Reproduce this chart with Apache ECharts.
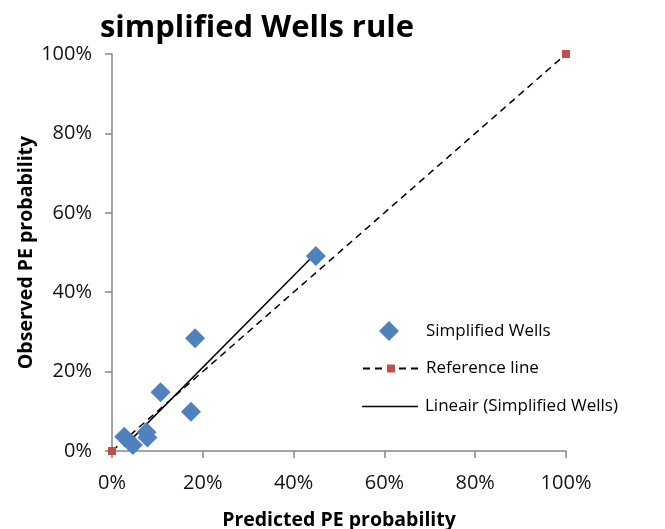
<!DOCTYPE html>
<html><head><meta charset="utf-8">
<script src="https://cdn.jsdelivr.net/npm/echarts@6/dist/echarts.min.js"></script>
<style>html,body{margin:0;padding:0;background:#fff}#c{width:665px;height:529px}</style>
</head><body><div id="c"></div>
<script>
const predicted = [18.3, 10.7, 17.4, 2.7, 4.6, 7.6, 7.8, 44.9];
const observed  = [28.4, 14.8, 9.9, 3.6, 1.5, 4.7, 3.4, 49.1];
const refX = [0, 100];
const refY = [0, 100];
const seriesNames = ['Simplified Wells', 'Reference line', 'Lineair (Simplified Wells)'];
const axisTicks = [0, 20, 40, 60, 80, 100];

const n = predicted.length;
const mx = predicted.reduce((a,b)=>a+b,0)/n;
const my = observed.reduce((a,b)=>a+b,0)/n;
let sxx=0, sxy=0;
for (let i=0;i<n;i++){ sxx+=(predicted[i]-mx)**2; sxy+=(predicted[i]-mx)*(observed[i]-my); }
const slope = sxy/sxx, icpt = my - slope*mx;
const xmin = Math.min(...predicted), xmax = Math.max(...predicted);
const trend = [[xmin, icpt+slope*xmin],[xmax, icpt+slope*xmax]];

const font = "'Open Sans', 'Liberation Sans', sans-serif";
function legendText(pad){ return {fontFamily:font, fontSize:17, color:'#000', padding:[0,0,0,pad]}; }
function axis(name, gap, margin){
  return {type:'value', min:axisTicks[0], max:axisTicks[axisTicks.length-1], interval:axisTicks[1]-axisTicks[0],
    name:name, nameLocation:'middle', nameGap:gap, nameMoveOverlap:false,
    nameTextStyle:{fontFamily:font, fontWeight:'bold', fontSize:19.5, color:'#000'},
    axisLine:{show:true, lineStyle:{color:'#868686', width:1.5}},
    axisTick:{show:true, length:7, lineStyle:{color:'#868686', width:1.5}},
    splitLine:{show:false},
    axisLabel:{formatter:'{value}%', fontFamily:font, fontSize:20, color:'#111', margin:margin}};
}
const chart = echarts.init(document.getElementById('c'));
chart.setOption({
  animation:false,
  title:{text:'simplified Wells rule', left:252, top:8, textAlign:'center',
    textStyle:{fontFamily:font, fontWeight:'bold', fontSize:31, color:'#000'}},
  grid:{left:112, right:99, top:54, bottom:78, outerBoundsMode:'none', containLabel:false},
  xAxis:axis('Predicted PE probability', 59, 22),
  yAxis:axis('Observed PE probability', 76, 20),
  legend:[
    {left:374, top:316, itemWidth:56, itemHeight:20, textStyle:legendText(4),
      data:[{name:seriesNames[0], icon:'path://M5,0L10,5L5,10L0,5Z'}]},
    {left:357, top:355, itemWidth:56, itemHeight:10, textStyle:legendText(2),
      data:[seriesNames[1]]},
    {left:357, top:393, itemWidth:56, itemHeight:16, textStyle:legendText(2),
      data:[{name:seriesNames[2], icon:'path://M0,0H56V1.5H0Z'}]}
  ],
  series:[
    {name:seriesNames[1], type:'line', data:refX.map((x,i)=>[x,refY[i]]),
      symbol:'rect', symbolSize:8, itemStyle:{color:'#C0504D'},
      lineStyle:{color:'#000', type:[7,5], width:1.5}, z:2},
    {name:seriesNames[2], type:'line', data:trend, symbol:'none',
      lineStyle:{color:'#000', width:1.5}, itemStyle:{color:'#000'}, z:3},
    {name:seriesNames[0], type:'scatter', data:predicted.map((x,i)=>[x,observed[i]]),
      symbol:'diamond', symbolSize:20, itemStyle:{color:'#4F81BD', opacity:1}, z:4}
  ]
});
</script></body></html>
